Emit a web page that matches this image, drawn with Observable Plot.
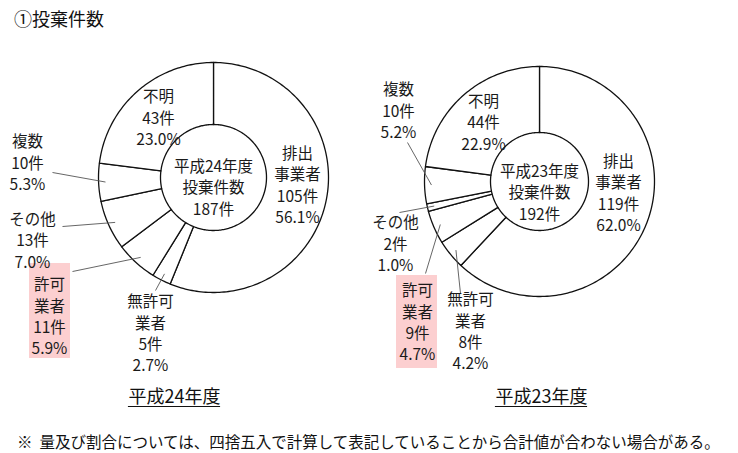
<!DOCTYPE html>
<html>
<head>
<meta charset="utf-8">
<script src="https://cdn.jsdelivr.net/npm/d3@7"></script>
<script src="https://cdn.jsdelivr.net/npm/@observablehq/plot@0.6"></script>
<style>
  body { margin:0; background:#fff; width:738px; height:453px; position:relative; overflow:hidden;
         font-family:"Noto Sans CJK JP","Noto Sans",sans-serif; color:#111; }
  #title { position:absolute; left:14px; top:0; height:36px; line-height:36px; font-size:18px; }
  #chart { position:absolute; left:0; top:40px; }
  #note { position:absolute; left:17px; top:430px; font-size:15.5px; line-height:22px; white-space:nowrap; }
</style>
</head>
<body>
<div id="title">①投棄件数</div>
<div id="chart"></div>
<div id="note">※&nbsp;&nbsp;量及び割合については、四捨五入で計算して表記していることから合計値が合わない場合がある。</div>
<script>
// ---- data ----
const categories = ["排出\n事業者", "無許可\n業者", "許可\n業者", "その他", "複数", "不明"];
const years = ["平成24年度", "平成23年度"];
const totals = [187, 192];
const counts24 = [105, 5, 11, 13, 10, 43];
const pct24 = ["56.1%", "2.7%", "5.9%", "7.0%", "5.3%", "23.0%"];
const counts23 = [119, 8, 9, 2, 10, 44];
const pct23 = ["62.0%", "4.2%", "4.7%", "1.0%", "5.2%", "22.9%"];
const highlight = "許可\n業者";

// ---- layout (page pixel units) ----
const donuts = [
  {cx: 213, cy: 177, r0: 53, r1: 115, counts: counts24, pct: pct24,
   labelX: [297, 150, 49, 32, 27, 158], labelY: [183.5, 332, 315, 239, 161.5, 116.5],
   leaderFrom: [null, [155, 290], [72, 271], [62, 226], [52, 172], null],
   centerY: 186, box: [29, 70, 263, 358], yearX: 174},
  {cx: 539, cy: 181, r0: 49, r1: 115, counts: counts23, pct: pct23,
   labelX: [618, 470, 417, 395, 398, 483], labelY: [191.5, 330, 321, 242.5, 109.5, 121],
   leaderFrom: [null, [460, 293], [425, 273], [399, 212], [407, 142], null],
   centerY: 191, box: [396, 437, 275, 368], yearX: 541}
];
const yearFont = 18;
const textWidth = (s, fs) => Array.from(s).reduce((w, c) => w + (/[0-9]/.test(c) ? 0.56 : 1) * fs, 0);

const polys = [], labels = [], leaders = [], centers = [], boxes = [], yearLabels = [];
donuts.forEach((d, j) => {
  const arcs = d3.pie().sort(null).value(v => v)(d.counts);
  arcs.forEach((a, i) => {
    const key = j + "-" + i;
    const n = Math.max(2, Math.ceil((a.endAngle - a.startAngle) / 0.02));
    for (let k = 0; k <= n; k++) {
      const t = a.startAngle + (a.endAngle - a.startAngle) * k / n;
      polys.push({x: d.cx + d.r1 * Math.sin(t), y: d.cy - d.r1 * Math.cos(t), z: key});
    }
    for (let k = n; k >= 0; k--) {
      const t = a.startAngle + (a.endAngle - a.startAngle) * k / n;
      polys.push({x: d.cx + d.r0 * Math.sin(t), y: d.cy - d.r0 * Math.cos(t), z: key});
    }
    labels.push({x: d.labelX[i], y: d.labelY[i],
      text: categories[i] + "\n" + d.counts[i] + "件\n" + d.pct[i]});
    if (d.leaderFrom[i]) {
      const mid = (a.startAngle + a.endAngle) / 2, rr = d.r1 * 0.94;
      leaders.push({x1: d.leaderFrom[i][0], y1: d.leaderFrom[i][1],
        x2: d.cx + rr * Math.sin(mid), y2: d.cy - rr * Math.cos(mid)});
    }
    if (categories[i] === highlight) boxes.push({x1: d.box[0], x2: d.box[1], y1: d.box[2], y2: d.box[3]});
  });
  centers.push({x: d.cx, y: d.centerY, text: years[j] + "\n投棄件数\n" + totals[j] + "件"});
  const w = textWidth(years[j], yearFont);
  yearLabels.push({x: d.yearX, y: 397, text: years[j], ux1: d.yearX - w / 2, ux2: d.yearX + w / 2, uy: 406});
});

const plot = Plot.plot({
  width: 738, height: 380,
  marginTop: 0, marginBottom: 0, marginLeft: 0, marginRight: 0,
  x: {domain: [0, 738], range: [0, 738], axis: null},
  y: {domain: [40, 420], range: [0, 380], axis: null},
  style: {fontFamily: '"Noto Sans CJK JP", sans-serif', background: "white", color: "#111"},
  marks: [
    Plot.rect(boxes, {x1: "x1", x2: "x2", y1: "y1", y2: "y2", fill: "#fccfd0"}),
    Plot.line(polys, {x: "x", y: "y", z: "z", curve: "linear-closed", fill: "white", stroke: "#111", strokeWidth: 1.3}),
    Plot.link(leaders, {x1: "x1", y1: "y1", x2: "x2", y2: "y2", stroke: "#555", strokeWidth: 0.9}),
    Plot.text(labels, {x: "x", y: "y", text: "text", fontSize: 15.5, lineHeight: 1.38, textAnchor: "middle", lineAnchor: "middle", fill: "#1a1a1a"}),
    Plot.text(centers, {x: "x", y: "y", text: "text", fontSize: 15.5, lineHeight: 1.38, textAnchor: "middle", lineAnchor: "middle", fill: "#1a1a1a"}),
    Plot.text(yearLabels, {x: "x", y: "y", text: "text", fontSize: yearFont, textAnchor: "middle", fill: "#111"}),
    Plot.ruleY(yearLabels, {y: "uy", x1: "ux1", x2: "ux2", stroke: "#111", strokeWidth: 1.2})
  ]
});
document.getElementById("chart").appendChild(plot);
</script>
</body>
</html>
